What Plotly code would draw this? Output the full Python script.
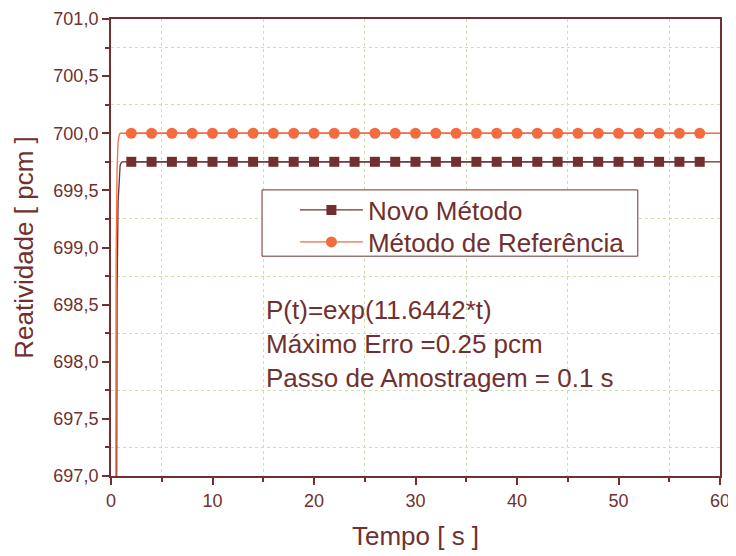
import plotly.graph_objects as go

# ---- data ----
t_rise = [0.4, 0.5, 0.6, 0.7, 0.8, 0.9, 1.0, 1.1, 1.2, 1.5]
novo_rise = [690.0, 696.0, 698.6, 699.4, 699.65, 699.72, 699.74, 699.75, 699.75, 699.75]
ref_rise = [690.0, 698.9, 699.7, 699.93, 699.98, 700.0, 700.0, 700.0, 700.0, 700.0]

t_marks = [2, 4, 6, 8, 10, 12, 14, 16, 18, 20, 22, 24, 26, 28, 30,
           32, 34, 36, 38, 40, 42, 44, 46, 48, 50, 52, 54, 56, 58]
novo_marks = [699.75] * len(t_marks)
ref_marks = [700.0] * len(t_marks)

t_end = [60]
novo_end = [699.75]
ref_end = [700.0]

BROWN = "#71302F"
ORANGE = "#F46B3F"
GRID = "#C9E3A6"
FONT = "Liberation Sans, Arial, sans-serif"

fig = go.Figure()

# full lines (no legend)
fig.add_trace(go.Scatter(x=t_rise + t_marks + t_end, y=novo_rise + novo_marks + novo_end,
                         mode="lines", line=dict(color=BROWN, width=1.3),
                         showlegend=False, hoverinfo="skip"))
fig.add_trace(go.Scatter(x=t_rise + t_marks + t_end, y=ref_rise + ref_marks + ref_end,
                         mode="lines", line=dict(color=ORANGE, width=1.3),
                         showlegend=False, hoverinfo="skip"))
# marker series
fig.add_trace(go.Scatter(x=t_marks, y=novo_marks, name="Novo Método", legend="legend",
                         mode="lines+markers", line=dict(color=BROWN, width=1.3),
                         marker=dict(symbol="square", size=10, color=BROWN)))
fig.add_trace(go.Scatter(x=t_marks, y=ref_marks, name="Método de Referência", legend="legend2",
                         mode="lines+markers", line=dict(color=ORANGE, width=1.3),
                         marker=dict(symbol="circle", size=11, color=ORANGE)))

# legend frame
fig.add_shape(type="rect", xref="paper", yref="paper",
              x0=0.248, x1=0.865, y0=0.481, y1=0.626,
              line=dict(color=BROWN, width=1), fillcolor="white", layer="above")

fig.add_annotation(
    x=0.252, y=0.40, xref="paper", yref="paper", xanchor="left", yanchor="top",
    align="left", showarrow=False,
    text="P(t)=exp(11.6442*t)<br>Máximo Erro =0.25 pcm<br>Passo de Amostragem = 0.1 s",
    font=dict(family=FONT, size=26, color=BROWN),
)

axis_common = dict(
    showline=True, linecolor=BROWN, linewidth=2, mirror=True,
    ticks="outside", ticklen=7, tickwidth=2, tickcolor=BROWN,
    showgrid=False, zeroline=False, automargin=False,
    tickfont=dict(family=FONT, size=18, color=BROWN),
)

fig.update_xaxes(
    range=[0, 60], tick0=0, dtick=10, **axis_common,
    title=dict(text="Tempo [ s ]", font=dict(family=FONT, size=26, color=BROWN), standoff=17),
    minor=dict(tick0=5, dtick=10, ticks="outside", ticklen=4, tickwidth=2, tickcolor=BROWN,
               showgrid=True, gridcolor=GRID, griddash="dot", gridwidth=1),
)
fig.update_yaxes(
    range=[697.0, 701.0], tick0=697, dtick=0.5, tickformat=".1f", **axis_common,
    title=dict(text="Reatividade [ pcm ]", font=dict(family=FONT, size=26, color=BROWN), standoff=12),
    minor=dict(tick0=697.25, dtick=0.5, ticks="outside", ticklen=4, tickwidth=2, tickcolor=BROWN,
               showgrid=True, gridcolor=GRID, griddash="dot", gridwidth=1),
)

legend_common = dict(
    xanchor="left", yanchor="middle",
    bgcolor="rgba(0,0,0,0)", borderwidth=0,
    font=dict(family=FONT, size=26, color=BROWN),
    itemwidth=63,
)

fig.update_layout(
    width=728, height=548,
    margin=dict(l=103, r=16, t=11, b=80),
    paper_bgcolor="white", plot_bgcolor="white",
    separators=", ",
    font=dict(family=FONT, color=BROWN),
    legend=dict(x=0.302, y=0.582, **legend_common),
    legend2=dict(x=0.302, y=0.512, **legend_common),
)

fig.write_html("out.html")
